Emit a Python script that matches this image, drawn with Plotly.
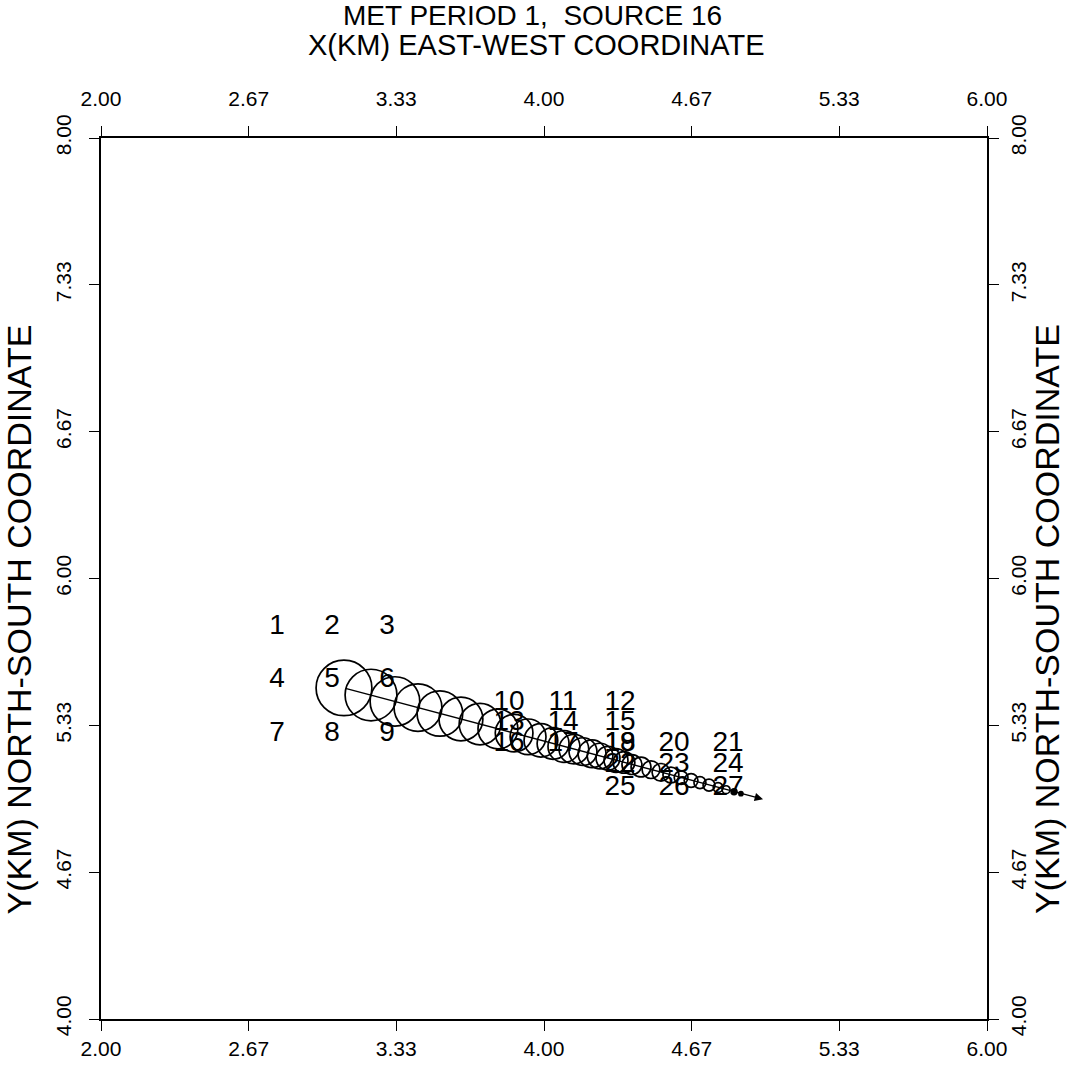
import plotly.graph_objects as go

# ---- data (km) ----
tick_vals = [2.0, 2.667, 3.333, 4.0, 4.667, 5.333, 6.0]
x_tick_text = ["2.00", "2.67", "3.33", "4.00", "4.67", "5.33", "6.00"]
y_tick_vals = [4.0, 4.667, 5.333, 6.0, 6.667, 7.333, 8.0]
y_tick_text = ["4.00", "4.67", "5.33", "6.00", "6.67", "7.33", "8.00"]

receptor_id = [str(i) for i in range(1, 28)]
receptor_x = [2.795, 3.043, 3.291, 2.795, 3.043, 3.291, 2.795, 3.043, 3.291,
              3.842, 4.086, 4.343, 3.842, 4.086, 4.343, 3.842, 4.086, 4.343,
              4.343, 4.587, 4.831, 4.343, 4.587, 4.831, 4.343, 4.587, 4.831]
receptor_y = [5.781, 5.781, 5.781, 5.537, 5.537, 5.537, 5.293, 5.293, 5.293,
              5.437, 5.437, 5.437, 5.342, 5.342, 5.342, 5.247, 5.247, 5.247,
              5.247, 5.247, 5.247, 5.153, 5.153, 5.153, 5.049, 5.049, 5.049]

puff_x = [3.097, 3.219, 3.327, 3.431, 3.530, 3.625, 3.711, 3.792, 3.865, 3.928,
          3.986, 4.041, 4.090, 4.135, 4.176, 4.217, 4.253, 4.289, 4.325, 4.361,
          4.397, 4.438, 4.483, 4.528, 4.573, 4.619, 4.664, 4.704, 4.745, 4.786,
          4.822, 4.858, 4.889]
puff_y = [5.503, 5.471, 5.442, 5.414, 5.387, 5.362, 5.339, 5.317, 5.298, 5.281,
          5.265, 5.251, 5.237, 5.225, 5.214, 5.204, 5.194, 5.184, 5.174, 5.165,
          5.155, 5.144, 5.132, 5.120, 5.108, 5.096, 5.083, 5.073, 5.062, 5.051,
          5.041, 5.032, 5.023]
puff_r = [0.126, 0.117, 0.112, 0.108, 0.103, 0.099, 0.094, 0.090, 0.085, 0.081,
          0.076, 0.072, 0.072, 0.067, 0.063, 0.063, 0.058, 0.054, 0.054, 0.049,
          0.045, 0.045, 0.040, 0.040, 0.036, 0.031, 0.031, 0.027, 0.027, 0.022,
          0.018, 0.013, 0.009]

track_start = (3.097, 5.503)
track_end = (4.989, 4.998)

FONT = "Liberation Sans, Arial, sans-serif"

fig = go.Figure()

fig.add_trace(go.Scatter(
    x=receptor_x, y=receptor_y, text=receptor_id, mode="text",
    textfont=dict(family=FONT, size=28, color="black"),
    showlegend=False, hoverinfo="skip"))

# dummy trace to activate top/right axes
fig.add_trace(go.Scatter(x=[2, 6], y=[4, 8], xaxis="x2", yaxis="y2",
                         mode="markers", marker=dict(opacity=0),
                         showlegend=False, hoverinfo="skip"))

shapes = []
for cx, cy, r in zip(puff_x, puff_y, puff_r):
    shapes.append(dict(type="circle", xref="x", yref="y",
                       x0=cx - r, x1=cx + r, y0=cy - r, y1=cy + r,
                       fillcolor="black" if r < 0.015 else "rgba(0,0,0,0)",
                       line=dict(color="black", width=1.7)))

annotations = [
    dict(x=track_end[0], y=track_end[1], ax=track_start[0], ay=track_start[1],
         xref="x", yref="y", axref="x", ayref="y", showarrow=True,
         arrowhead=2, arrowsize=1.2, arrowwidth=1.4, arrowcolor="black", text=""),
    dict(text="MET PERIOD 1,  SOURCE 16", x=0.4865, y=1.139, xref="paper", yref="paper",
         showarrow=False, xanchor="center", yanchor="middle",
         font=dict(family=FONT, size=28, color="black")),
    dict(text="X(KM) EAST-WEST COORDINATE", x=0.492, y=1.105, xref="paper", yref="paper",
         showarrow=False, xanchor="center", yanchor="middle",
         font=dict(family=FONT, size=29, color="black")),
    dict(text="Y(KM) NORTH-SOUTH COORDINATE", x=-0.092, y=0.454, xref="paper", yref="paper",
         showarrow=False, xanchor="center", yanchor="middle", textangle=-90,
         font=dict(family=FONT, size=34, color="black")),
    dict(text="Y(KM) NORTH-SOUTH COORDINATE", x=1.0677, y=0.454, xref="paper", yref="paper",
         showarrow=False, xanchor="center", yanchor="middle", textangle=-90,
         font=dict(family=FONT, size=34, color="black")),
]

ax_common = dict(range=[2, 6], tickvals=tick_vals, ticktext=x_tick_text,
                 ticks="outside", ticklen=10, tickwidth=1.4, tickcolor="black",
                 showline=True, linewidth=1.6, linecolor="black", showgrid=False,
                 zeroline=False, tickfont=dict(family=FONT, size=21, color="black"))
ay_common = dict(range=[4, 8], tickvals=y_tick_vals, ticktext=y_tick_text,
                 ticks="outside", ticklen=10, tickwidth=1.4, tickcolor="black",
                 showline=True, linewidth=1.6, linecolor="black", showgrid=False,
                 zeroline=False, tickangle=-90,
                 tickfont=dict(family=FONT, size=21, color="black"))

fig.update_layout(
    width=1067, height=1072,
    margin=dict(l=101, r=80, t=138, b=49),
    paper_bgcolor="white", plot_bgcolor="white",
    xaxis=dict(**ax_common, side="bottom"),
    xaxis2=dict(**ax_common, side="top", overlaying="x", matches="x",
                ticklabelstandoff=12),
    yaxis=dict(**ay_common, side="left", ticklabelstandoff=10),
    yaxis2=dict(**ay_common, side="right", overlaying="y", matches="y",
                ticklabelstandoff=2),
    shapes=shapes, annotations=annotations, showlegend=False,
)

fig.write_html("out.html")
